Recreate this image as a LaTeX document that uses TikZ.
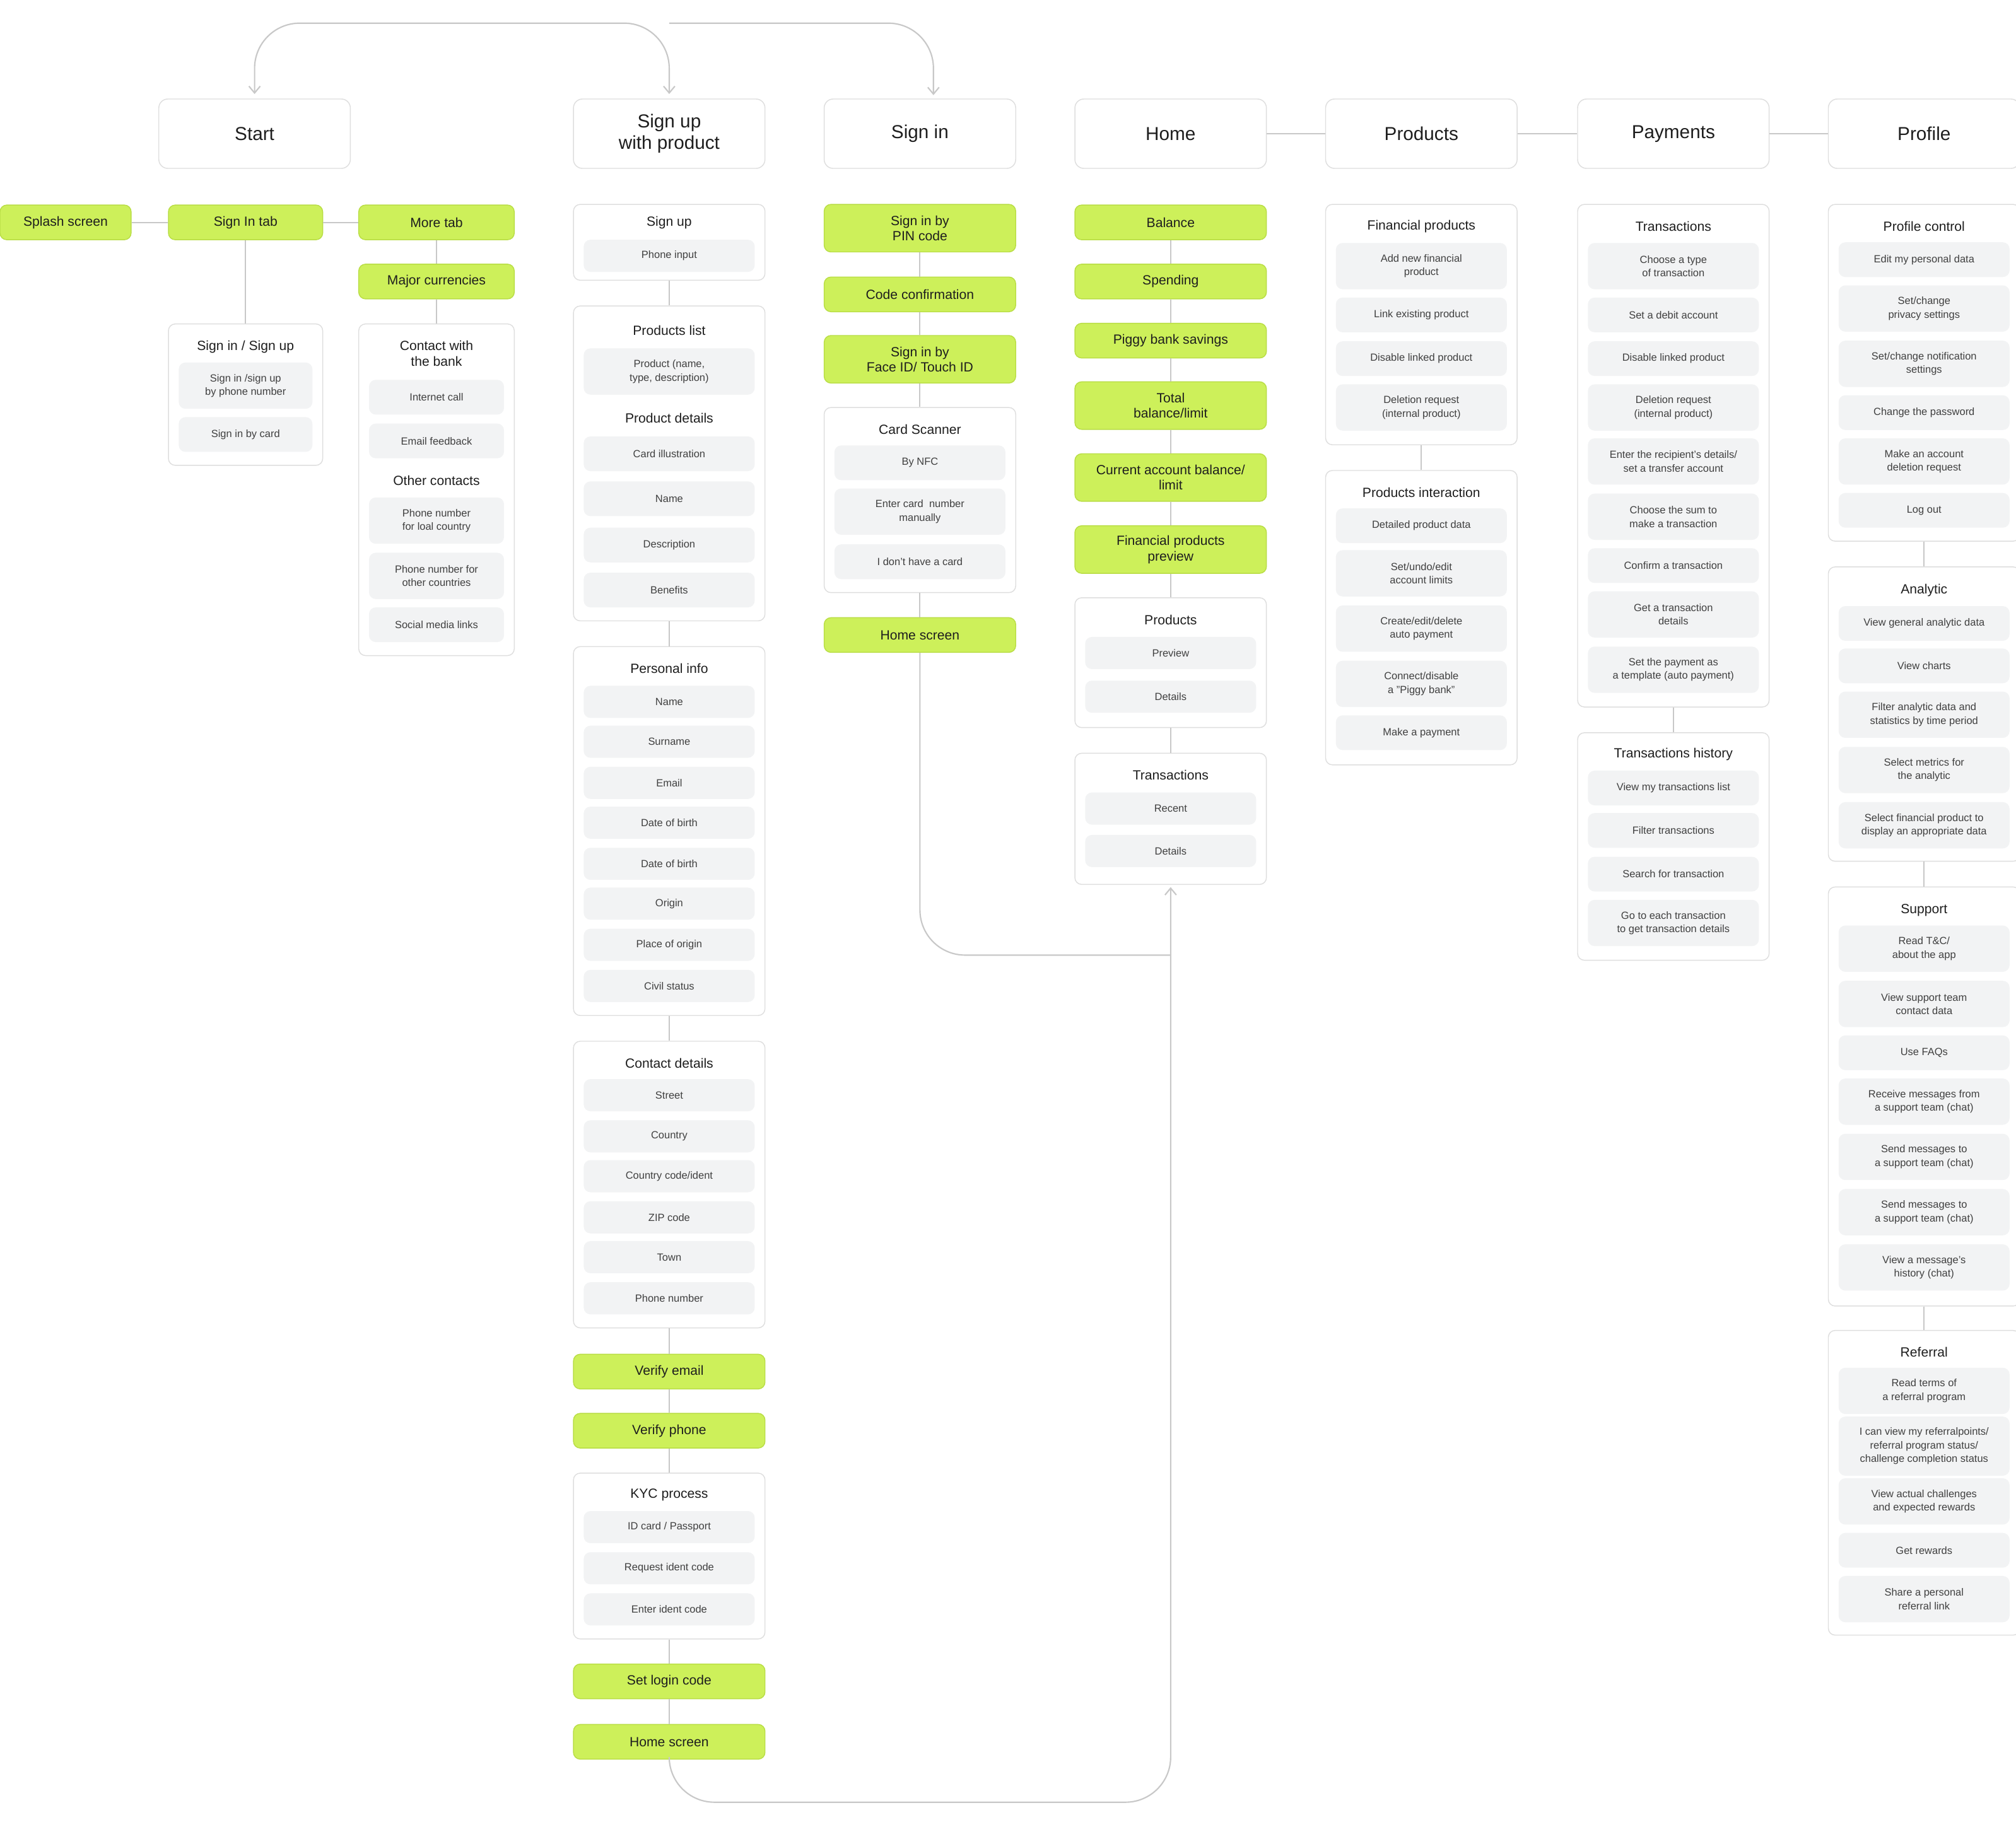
\documentclass[tikz,border=0pt]{standalone}
\usepackage{fontspec}
\setmainfont{Liberation Sans}
\usetikzlibrary{arrows.meta}
\definecolor{lime}{HTML}{CDF05A}
\definecolor{limeb}{HTML}{B9DD45}
\definecolor{itemf}{HTML}{F2F3F4}
\definecolor{boxb}{HTML}{DEDEDE}
\definecolor{lnc}{HTML}{C8C8C8}
\definecolor{txt}{HTML}{1E1E1E}
\newcounter{nn}
\newcommand\xItem[5][2.66cm]{\stepcounter{nn}\node[item,minimum width=#1,minimum height={#4*0.02cm}] (n\thenn) at (#2,#3) {#5};}
\newcommand\xTitle[3]{\stepcounter{nn}\node[ttl] (n\thenn) at (#1,#2) {#3};}
\newcommand\xGroup[5][2.98cm]{\node[grp,minimum width=#1,minimum height={(#5-#4)*0.02cm}] (#2) at (#3,{(#4+#5)/2}) {};}
\newcommand\xGreen[6][2.98cm]{\node[grn,minimum width=#1,minimum height={#5*0.02cm}] (#2) at (#3,#4) {#6};}
\begin{document}
\begin{tikzpicture}[x=0.02cm,y=-0.02cm,
  hdr/.style={draw=boxb,fill=white,rounded corners=4pt,minimum width=2.98cm,minimum height=1.08cm,inner sep=1pt,align=center,font=\fontsize{8.3}{9.5}\selectfont,text=txt},
  grp/.style={draw=boxb,fill=white,rounded corners=3pt,inner sep=0pt},
  item/.style={fill=itemf,rounded corners=3pt,inner sep=1pt,align=center,font=\fontsize{4.6}{6}\selectfont,text=txt!85},
  ttl/.style={inner sep=1pt,align=center,font=\fontsize{5.9}{7.2}\selectfont,text=txt},
  grn/.style={draw=limeb,fill=lime,rounded corners=3pt,inner sep=1pt,align=center,font=\fontsize{5.9}{6.8}\selectfont,text=txt},
  ln/.style={draw=lnc,line width=0.6pt},
  tip/.style={-{Straight Barb[length=3pt,width=5pt]}}]
\useasboundingbox (0,0) rectangle (1568,1421);
% headers
\node[hdr] (start) at (198,104) {Start};
\node[hdr] (signup) at (520.5,104) {Sign up\\with product};
\node[hdr] (signin) at (715.5,104) {Sign in};
\node[hdr] (home) at (910.5,104) {Home};
\node[hdr] (products) at (1105.5,104) {Products};
\node[hdr] (payments) at (1301.5,104) {Payments};
\node[hdr] (profile) at (1496.5,104) {Profile};
\draw[ln] (home.east) -- (products.west);
\draw[ln] (products.east) -- (payments.west);
\draw[ln] (payments.east) -- (profile.west);
\coordinate (tA) at (520.5,18);
\coordinate (tB) at (726,18);
\coordinate (tB2) at (726,74);
\draw[ln,rounded corners=20,{Straight Barb[length=3pt,width=5pt]}-{Straight Barb[length=3pt,width=5pt]},shorten <=2pt,shorten >=2pt] (start.north) |- (tA) -- (signup.north);
\draw[ln,rounded corners=20,tip] (tA) -- (tB) -- (tB2);

% ---------- Start column
\xGreen[2.04cm]{splash}{51}{173}{27}{Splash screen}
\xGreen[2.4cm]{sitab}{191}{173}{27}{Sign In tab}
\xGreen[2.42cm]{moretab}{339.5}{173}{27}{More tab}
\xGreen[2.42cm]{majcur}{339.5}{219}{27}{Major currencies}
\draw[ln] (splash.east) -- (sitab.west);
\draw[ln] (sitab.east) -- (moretab.west);
\xGroup[2.4cm]{gsis}{191}{252}{362}
\xTitle{191}{270}{Sign in / Sign up}
\xItem[2.08cm]{191}{300}{36}{Sign in /sign up\\by phone number}
\xItem[2.08cm]{191}{338}{27}{Sign in by card}
\draw[ln] (sitab.south) -- (gsis.north);
\xGroup[2.42cm]{gcont}{339.5}{252}{510}
\xTitle{339.5}{275}{Contact with\\the bank}
\xItem[2.1cm]{339.5}{309}{27}{Internet call}
\xItem[2.1cm]{339.5}{343}{27}{Email feedback}
\xTitle{339.5}{374}{Other contacts}
\xItem[2.1cm]{339.5}{405}{36}{Phone number\\for loal country}
\xItem[2.1cm]{339.5}{448}{36}{Phone number for\\other countries}
\xItem[2.1cm]{339.5}{486}{27}{Social media links}
\draw[ln] (moretab.south) -- (majcur.north);
\draw[ln] (majcur.south) -- (gcont.north);

% ---------- Sign up column
\xGroup{gsu1}{520.5}{159}{218}
\xTitle{520.5}{173}{Sign up}
\xItem{520.5}{199}{25}{Phone input}
\xGroup{gsu2}{520.5}{238}{483}
\xTitle{520.5}{257}{Products list}
\xItem{520.5}{289}{36}{Product (name,\\type, description)}
\xTitle{520.5}{325}{Product details}
\xItem{520.5}{353}{27}{Card illustration}
\xItem{520.5}{388}{27}{Name}
\xItem{520.5}{424}{27}{Description}
\xItem{520.5}{459}{27}{Benefits}
\xGroup{gsu3}{520.5}{503}{790}
\xTitle{520.5}{520}{Personal info}
\xItem{520.5}{546}{25}{Name}
\xItem{520.5}{577}{25}{Surname}
\xItem{520.5}{609}{25}{Email}
\xItem{520.5}{640}{25}{Date of birth}
\xItem{520.5}{672}{25}{Date of birth}
\xItem{520.5}{703}{25}{Origin}
\xItem{520.5}{735}{25}{Place of origin}
\xItem{520.5}{767}{25}{Civil status}
\xGroup{gsu4}{520.5}{810}{1033}
\xTitle{520.5}{827}{Contact details}
\xItem{520.5}{852}{25}{Street}
\xItem{520.5}{884}{25}{Country}
\xItem{520.5}{915}{25}{Country code/ident}
\xItem{520.5}{947}{25}{ZIP code}
\xItem{520.5}{978}{25}{Town}
\xItem{520.5}{1010}{25}{Phone number}
\xGreen{vemail}{520.5}{1067}{27}{Verify email}
\xGreen{vphone}{520.5}{1113}{27}{Verify phone}
\xGroup{gsu5}{520.5}{1146}{1275}
\xTitle{520.5}{1163}{KYC process}
\xItem{520.5}{1188}{25}{ID card / Passport}
\xItem{520.5}{1220}{25}{Request ident code}
\xItem{520.5}{1252}{25}{Enter ident code}
\xGreen{setlogin}{520.5}{1308}{27}{Set login code}
\xGreen{suhome}{520.5}{1355}{27}{Home screen}
\draw[ln] (gsu1.south) -- (gsu2.north);
\draw[ln] (gsu2.south) -- (gsu3.north);
\draw[ln] (gsu3.south) -- (gsu4.north);
\draw[ln] (gsu4.south) -- (vemail.north);
\draw[ln] (vemail.south) -- (vphone.north);
\draw[ln] (vphone.south) -- (gsu5.north);
\draw[ln] (gsu5.south) -- (setlogin.north);
\draw[ln] (setlogin.south) -- (suhome.north);

% ---------- Sign in column
\xGreen{pin}{715.5}{177.5}{37}{Sign in by\\PIN code}
\xGreen{codec}{715.5}{229}{27}{Code confirmation}
\xGreen{faceid}{715.5}{279.5}{37}{Sign in by\\Face ID/ Touch ID}
\xGroup{gscan}{715.5}{317}{461}
\xTitle{715.5}{334}{Card Scanner}
\xItem{715.5}{360}{27}{By NFC}
\xItem{715.5}{398}{36}{Enter card\ \ number\\manually}
\xItem{715.5}{437}{27}{I don't have a card}
\xGreen{sihome}{715.5}{494}{27}{Home screen}
\draw[ln] (pin.south) -- (codec.north);
\draw[ln] (codec.south) -- (faceid.north);
\draw[ln] (faceid.south) -- (gscan.north);
\draw[ln] (gscan.south) -- (sihome.north);

% ---------- Home column
\xGreen{bal}{910.5}{173}{27}{Balance}
\xGreen{spend}{910.5}{219}{27}{Spending}
\xGreen{piggy}{910.5}{265}{27}{Piggy bank savings}
\xGreen{total}{910.5}{315.5}{37}{Total\\balance/limit}
\xGreen{curacc}{910.5}{371.5}{37}{Current account balance/\\limit}
\xGreen{finprev}{910.5}{427.5}{37}{Financial products\\preview}
\xGroup{ghprod}{910.5}{465}{566}
\xTitle{910.5}{482}{Products}
\xItem{910.5}{508}{25}{Preview}
\xItem{910.5}{542}{25}{Details}
\xGroup{ghtr}{910.5}{586}{688}
\xTitle{910.5}{603}{Transactions}
\xItem{910.5}{629}{25}{Recent}
\xItem{910.5}{662}{25}{Details}
\draw[ln] (bal.south) -- (spend.north);
\draw[ln] (spend.south) -- (piggy.north);
\draw[ln] (piggy.south) -- (total.north);
\draw[ln] (total.south) -- (curacc.north);
\draw[ln] (curacc.south) -- (finprev.north);
\draw[ln] (finprev.south) -- (ghprod.north);
\draw[ln] (ghprod.south) -- (ghtr.north);
\coordinate (bjoin) at (910.5,1402);
\coordinate (sjoin) at (910.5,743);
\draw[ln,rounded corners=20] (sihome.south) |- (sjoin);
\draw[ln,rounded corners=20,tip,shorten >=1pt] (suhome.south) |- (bjoin) -- (ghtr.south);

% ---------- Products column
\xGroup{gpfin}{1105.5}{159}{346}
\xTitle{1105.5}{176}{Financial products}
\xItem{1105.5}{207}{36}{Add new financial\\product}
\xItem{1105.5}{245}{27}{Link existing product}
\xItem{1105.5}{279}{27}{Disable linked product}
\xItem{1105.5}{317}{36}{Deletion request\\(internal product)}
\xGroup{gpint}{1105.5}{366}{595}
\xTitle{1105.5}{383}{Products interaction}
\xItem{1105.5}{409}{27}{Detailed product data}
\xItem{1105.5}{446}{36}{Set/undo/edit\\account limits}
\xItem{1105.5}{489}{36}{Create/edit/delete\\auto payment}
\xItem{1105.5}{532}{36}{Connect/disable\\a "Piggy bank"}
\xItem{1105.5}{570}{27}{Make a payment}
\draw[ln] (gpfin.south) -- (gpint.north);

% ---------- Payments column
\xGroup{gptr}{1301.5}{159}{550}
\xTitle{1301.5}{176}{Transactions}
\xItem{1301.5}{207}{36}{Choose a type\\of transaction}
\xItem{1301.5}{245}{27}{Set a debit account}
\xItem{1301.5}{279}{27}{Disable linked product}
\xItem{1301.5}{317}{36}{Deletion request\\(internal product)}
\xItem{1301.5}{359}{36}{Enter the recipient's details/\\set a transfer account}
\xItem{1301.5}{402}{36}{Choose the sum to\\make a transaction}
\xItem{1301.5}{440}{27}{Confirm a transaction}
\xItem{1301.5}{478}{36}{Get a transaction\\details}
\xItem{1301.5}{521}{36}{Set the payment as\\a template (auto payment)}
\xGroup{gphist}{1301.5}{570}{747}
\xTitle{1301.5}{587}{Transactions history}
\xItem{1301.5}{613}{27}{View my transactions list}
\xItem{1301.5}{646}{27}{Filter transactions}
\xItem{1301.5}{680}{27}{Search for transaction}
\xItem{1301.5}{718}{36}{Go to each transaction\\to get transaction details}
\draw[ln] (gptr.south) -- (gphist.north);

% ---------- Profile column
\xGroup{gprc}{1496.5}{159}{421}
\xTitle{1496.5}{176}{Profile control}
\xItem{1496.5}{202}{27}{Edit my personal data}
\xItem{1496.5}{240}{36}{Set/change\\privacy settings}
\xItem{1496.5}{283}{36}{Set/change notification\\settings}
\xItem{1496.5}{321}{27}{Change the password}
\xItem{1496.5}{359}{36}{Make an account\\deletion request}
\xItem{1496.5}{397}{27}{Log out}
\xGroup{gpran}{1496.5}{441}{670}
\xTitle{1496.5}{459}{Analytic}
\xItem{1496.5}{485}{27}{View general analytic data}
\xItem{1496.5}{518}{27}{View charts}
\xItem{1496.5}{556}{36}{Filter analytic data and\\statistics by time period}
\xItem{1496.5}{599}{36}{Select metrics for\\the analytic}
\xItem{1496.5}{642}{36}{Select financial product to\\display an appropriate data}
\xGroup{gprsup}{1496.5}{690}{1016}
\xTitle{1496.5}{708}{Support}
\xItem{1496.5}{738}{36}{Read T\&C/\\about the app}
\xItem{1496.5}{781}{36}{View support team\\contact data}
\xItem{1496.5}{819}{27}{Use FAQs}
\xItem{1496.5}{857}{36}{Receive messages from\\a support team (chat)}
\xItem{1496.5}{900}{36}{Send messages to\\a support team (chat)}
\xItem{1496.5}{943}{36}{Send messages to\\a support team (chat)}
\xItem{1496.5}{986}{36}{View a message's\\history (chat)}
\xGroup{gprref}{1496.5}{1035}{1272}
\xTitle{1496.5}{1052}{Referral}
\xItem{1496.5}{1082}{36}{Read terms of\\a referral program}
\xItem{1496.5}{1125}{46}{I can view my referralpoints/\\referral program status/\\challenge completion status}
\xItem{1496.5}{1168}{36}{View actual challenges\\and expected rewards}
\xItem{1496.5}{1206}{27}{Get rewards}
\xItem{1496.5}{1244}{36}{Share a personal\\referral link}
\draw[ln] (gprc.south) -- (gpran.north);
\draw[ln] (gpran.south) -- (gprsup.north);
\draw[ln] (gprsup.south) -- (gprref.north);
\end{tikzpicture}
\end{document}
